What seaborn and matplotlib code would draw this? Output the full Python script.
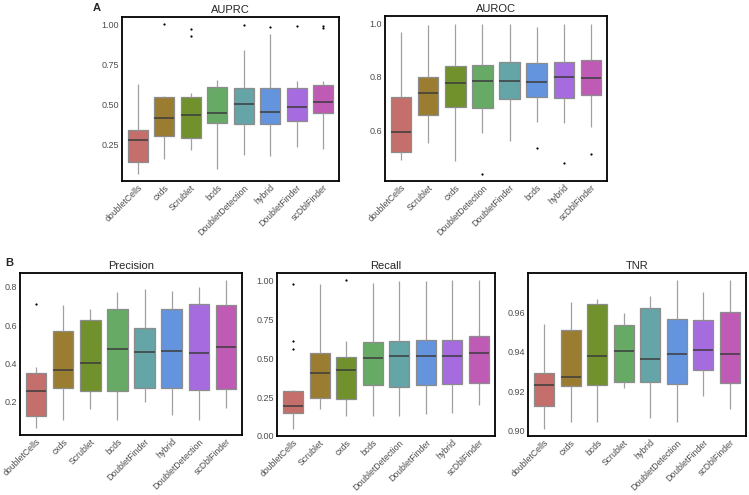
import numpy as np
import pandas as pd
import matplotlib
matplotlib.use("Agg")
import matplotlib.pyplot as plt
import seaborn as sns

# colours by box position (ggplot hue palette, a bit darker)
colors = ["#D3625C", "#AD8520", "#76A21A", "#5BB55B",
          "#5AB0B2", "#5090F2", "#A758F2", "#D04AC2"]

# --- AUPRC ---
auprc_methods = ["doubletCells", "cxds", "Scrublet", "bcds", "DoubletDetection",
                 "hybrid", "DoubletFinder", "scDblFinder"]
auprc_lo = [0.067, 0.16, 0.212, 0.098, 0.185, 0.177, 0.233, 0.219]
auprc_q1 = [0.140, 0.300, 0.292, 0.383, 0.379, 0.379, 0.396, 0.446]
auprc_med = [0.279, 0.417, 0.435, 0.448, 0.504, 0.452, 0.483, 0.512]
auprc_q3 = [0.342, 0.548, 0.544, 0.610, 0.602, 0.602, 0.602, 0.621]
auprc_hi = [0.625, 0.552, 0.573, 0.650, 0.842, 0.942, 0.646, 0.646]
auprc_out = {"cxds": [1.0], "Scrublet": [0.971, 0.927], "DoubletDetection": [0.994],
             "hybrid": [0.983], "DoubletFinder": [0.992], "scDblFinder": [0.99, 0.975]}

# --- AUROC ---
auroc_methods = ["doubletCells", "Scrublet", "cxds", "DoubletDetection",
                 "DoubletFinder", "bcds", "hybrid", "scDblFinder"]
auroc_lo = [0.490, 0.552, 0.487, 0.590, 0.562, 0.632, 0.627, 0.612]
auroc_q1 = [0.520, 0.657, 0.686, 0.684, 0.718, 0.725, 0.722, 0.732]
auroc_med = [0.596, 0.739, 0.777, 0.786, 0.786, 0.781, 0.800, 0.795]
auroc_q3 = [0.725, 0.800, 0.841, 0.845, 0.856, 0.853, 0.855, 0.864]
auroc_hi = [0.969, 0.996, 1.0, 1.0, 1.0, 0.986, 1.0, 1.0]
auroc_out = {"DoubletDetection": [0.439], "bcds": [0.535], "hybrid": [0.48],
             "scDblFinder": [0.512]}

# --- Precision ---
prec_methods = ["doubletCells", "cxds", "Scrublet", "bcds", "DoubletFinder",
                "hybrid", "DoubletDetection", "scDblFinder"]
prec_lo = [0.064, 0.104, 0.164, 0.104, 0.200, 0.128, 0.104, 0.165]
prec_q1 = [0.124, 0.273, 0.256, 0.256, 0.273, 0.273, 0.260, 0.268]
prec_med = [0.253, 0.366, 0.402, 0.476, 0.460, 0.466, 0.453, 0.484]
prec_q3 = [0.351, 0.567, 0.627, 0.683, 0.587, 0.685, 0.711, 0.707]
prec_hi = [0.381, 0.707, 0.683, 0.774, 0.790, 0.778, 0.800, 0.834]
prec_out = {"doubletCells": [0.711]}

# --- Recall ---
rec_methods = ["doubletCells", "Scrublet", "cxds", "bcds", "DoubletDetection",
               "DoubletFinder", "hybrid", "scDblFinder"]
rec_lo = [0.047, 0.172, 0.126, 0.126, 0.126, 0.143, 0.147, 0.196]
rec_q1 = [0.147, 0.245, 0.238, 0.326, 0.315, 0.326, 0.336, 0.343]
rec_med = [0.194, 0.406, 0.421, 0.498, 0.513, 0.511, 0.517, 0.536]
rec_q3 = [0.287, 0.534, 0.506, 0.606, 0.611, 0.619, 0.615, 0.645]
rec_hi = [0.296, 0.977, 0.611, 0.983, 0.996, 0.996, 1.0, 1.0]
rec_out = {"doubletCells": [0.977, 0.611, 0.557], "cxds": [1.0]}

# --- TNR ---
tnr_methods = ["doubletCells", "cxds", "bcds", "Scrublet", "hybrid",
               "DoubletDetection", "DoubletFinder", "scDblFinder"]
tnr_lo = [0.9012, 0.9045, 0.9045, 0.9217, 0.9065, 0.9045, 0.9177, 0.9110]
tnr_q1 = [0.9127, 0.9228, 0.9232, 0.9247, 0.9245, 0.9238, 0.9308, 0.9242]
tnr_med = [0.9230, 0.9270, 0.9380, 0.9405, 0.9365, 0.9388, 0.9407, 0.9388]
tnr_q3 = [0.9295, 0.9510, 0.9640, 0.9535, 0.9623, 0.9565, 0.9558, 0.9603]
tnr_hi = [0.9540, 0.9650, 0.9665, 0.9595, 0.9680, 0.9760, 0.9703, 0.9760]
tnr_out = {}


def make_frame(methods, lo, q1, med, q3, hi):
    rows = []
    for i, m in enumerate(methods):
        for v in (lo[i], q1[i], med[i], q3[i], hi[i]):
            rows.append((m, v))
    return pd.DataFrame(rows, columns=["method", "value"])


def draw_panel(ax, title, methods, lo, q1, med, q3, hi, outliers, yticks, fmt):
    df = make_frame(methods, lo, q1, med, q3, hi)
    sns.boxplot(data=df, x="method", y="value", hue="method", order=methods,
                hue_order=methods, palette=colors, legend=False, whis=np.inf,
                width=0.75, showcaps=False, linecolor="#8c8c8c", linewidth=0.9,
                medianprops={"color": "#3c3c3c", "linewidth": 1.1},
                whiskerprops={"color": "#a0a0a0", "linewidth": 0.9},
                ax=ax)
    if outliers:
        odf = pd.DataFrame([(m, v) for m, vals in outliers.items() for v in vals],
                           columns=["method", "value"])
        sns.stripplot(data=odf, x="method", y="value", order=methods, color="black",
                      size=1.6, jitter=False, ax=ax)
    allv = lo + hi + [v for vals in outliers.values() for v in vals]
    vmin, vmax = min(allv), max(allv)
    pad = (vmax - vmin) * 0.05
    ax.set_ylim(vmin - pad, vmax + pad)
    ax.set_xlim(-0.6, len(methods) - 0.4)
    ax.set_yticks(yticks)
    ax.set_yticklabels([fmt.format(t) for t in yticks])
    ax.set_xlabel("")
    ax.set_ylabel("")
    ax.set_title(title, fontsize=8, pad=3)
    ax.tick_params(axis="both", length=0, pad=2, colors="#4d4d4d")
    ax.tick_params(axis="x", labelsize=6.3, pad=1.5)
    ax.tick_params(axis="y", labelsize=6.5)
    for lab in ax.get_xticklabels():
        lab.set_rotation(45)
        lab.set_ha("right")
        lab.set_rotation_mode("anchor")
    for sp in ax.spines.values():
        sp.set_visible(True)
        sp.set_color("black")
        sp.set_linewidth(1.3)


sns.set_style("white")
plt.rcParams["font.family"] = ["Liberation Sans", "DejaVu Sans"]

W, H = 749, 495
fig = plt.figure(figsize=(W / 100, H / 100), dpi=100)


def box(l, r, t, b):
    return [l / W, (H - b) / H, (r - l) / W, (b - t) / H]


ax1 = fig.add_axes(box(122, 339, 17, 181))
draw_panel(ax1, "AUPRC", auprc_methods, auprc_lo, auprc_q1, auprc_med, auprc_q3,
           auprc_hi, auprc_out, [0.25, 0.50, 0.75, 1.00], "{:.2f}")
ax2 = fig.add_axes(box(385, 607, 16, 181))
draw_panel(ax2, "AUROC", auroc_methods, auroc_lo, auroc_q1, auroc_med, auroc_q3,
           auroc_hi, auroc_out, [0.6, 0.8, 1.0], "{:.1f}")
ax3 = fig.add_axes(box(20, 242, 273, 435))
draw_panel(ax3, "Precision", prec_methods, prec_lo, prec_q1, prec_med, prec_q3,
           prec_hi, prec_out, [0.2, 0.4, 0.6, 0.8], "{:.1f}")
ax4 = fig.add_axes(box(277, 495, 273, 436))
draw_panel(ax4, "Recall", rec_methods, rec_lo, rec_q1, rec_med, rec_q3,
           rec_hi, rec_out, [0.0, 0.25, 0.50, 0.75, 1.00], "{:.2f}")
ax5 = fig.add_axes(box(528, 746, 273, 436))
draw_panel(ax5, "TNR", tnr_methods, tnr_lo, tnr_q1, tnr_med, tnr_q3,
           tnr_hi, tnr_out, [0.90, 0.92, 0.94, 0.96], "{:.2f}")

fig.text(93 / W, 1 - 8 / H, "A", fontsize=8, fontweight="bold", ha="left", va="center")
fig.text(5 / W, 1 - 263 / H, "B", fontsize=8, fontweight="bold", ha="left", va="center")

fig.savefig("out.png", dpi=100)
